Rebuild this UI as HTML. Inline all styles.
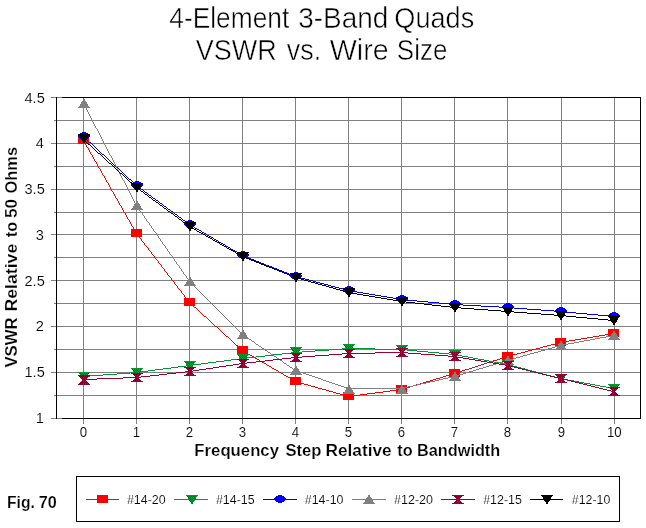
<!DOCTYPE html><html><head><meta charset="utf-8"><title>Fig. 70</title>
<style>html,body{margin:0;padding:0;background:#fff}svg{display:block}text{font-family:"Liberation Sans",sans-serif;fill:#000}</style></head><body>
<svg width="646" height="528" viewBox="0 0 646 528">
<rect width="646" height="528" fill="#fff"/>
<defs><pattern id="dg" x="0" y="0" width="2" height="2" patternUnits="userSpaceOnUse" shape-rendering="crispEdges"><rect width="2" height="2" fill="#006633"/><rect x="0" y="0" width="1" height="1" fill="#009933"/><rect x="1" y="1" width="1" height="1" fill="#00a266"/></pattern><pattern id="dm" x="0" y="0" width="2" height="2" patternUnits="userSpaceOnUse" shape-rendering="crispEdges"><rect width="2" height="2" fill="#660033"/><rect x="0" y="0" width="1" height="1" fill="#990033"/><rect x="1" y="1" width="1" height="1" fill="#b80070"/></pattern></defs>
<g shape-rendering="crispEdges" stroke="#808080" stroke-width="1" fill="none">
<line x1="51" y1="418.5" x2="640" y2="418.5"/>
<line x1="54" y1="395.5" x2="640" y2="395.5"/>
<line x1="51" y1="372.5" x2="640" y2="372.5"/>
<line x1="54" y1="349.5" x2="640" y2="349.5"/>
<line x1="51" y1="326.5" x2="640" y2="326.5"/>
<line x1="54" y1="303.5" x2="640" y2="303.5"/>
<line x1="51" y1="280.5" x2="640" y2="280.5"/>
<line x1="54" y1="257.5" x2="640" y2="257.5"/>
<line x1="51" y1="234.5" x2="640" y2="234.5"/>
<line x1="54" y1="212.5" x2="640" y2="212.5"/>
<line x1="51" y1="189.5" x2="640" y2="189.5"/>
<line x1="54" y1="166.5" x2="640" y2="166.5"/>
<line x1="51" y1="143.5" x2="640" y2="143.5"/>
<line x1="54" y1="120.5" x2="640" y2="120.5"/>
<line x1="51" y1="97.5" x2="640" y2="97.5"/>
<line x1="83.5" y1="97" x2="83.5" y2="424"/>
<line x1="136.5" y1="97" x2="136.5" y2="424"/>
<line x1="189.5" y1="97" x2="189.5" y2="424"/>
<line x1="242.5" y1="97" x2="242.5" y2="424"/>
<line x1="295.5" y1="97" x2="295.5" y2="424"/>
<line x1="348.5" y1="97" x2="348.5" y2="424"/>
<line x1="401.5" y1="97" x2="401.5" y2="424"/>
<line x1="454.5" y1="97" x2="454.5" y2="424"/>
<line x1="507.5" y1="97" x2="507.5" y2="424"/>
<line x1="561.5" y1="97" x2="561.5" y2="424"/>
<line x1="614.5" y1="97" x2="614.5" y2="424"/>
</g>
<g shape-rendering="crispEdges" stroke="#000" stroke-width="1" fill="none">
<line x1="56.5" y1="97" x2="56.5" y2="419"/>
<line x1="62" y1="97.5" x2="641" y2="97.5"/>
<line x1="640.5" y1="97" x2="640.5" y2="419"/>
<line x1="62" y1="418.5" x2="641" y2="418.5"/>
</g>
<g shape-rendering="crispEdges">
<path d="M83,140.5h1M84.5,141v2M85.5,143v2M86.5,145v2M87,147.5h1M88.5,148v2M89.5,150v2M90.5,152v2M91,154.5h1M92.5,155v2M93.5,157v2M94.5,159v2M95,161.5h1M96.5,162v2M97.5,164v2M98.5,166v2M99,168.5h1M100.5,169v2M101.5,171v2M102.5,173v2M103,175.5h1M104.5,176v2M105.5,178v2M106.5,180v2M107,182.5h1M108.5,183v2M109.5,185v2M110.5,187v2M111.5,189v2M112,191.5h1M113.5,192v2M114.5,194v2M115.5,196v2M116,198.5h1M117.5,199v2M118.5,201v2M119.5,203v2M120,205.5h1M121.5,206v2M122.5,208v2M123.5,210v2M124,212.5h1M125.5,213v2M126.5,215v2M127.5,217v2M128,219.5h1M129.5,220v2M130.5,222v2M131.5,224v2M132,226.5h1M133.5,227v2M134.5,229v2M135.5,231v2M136,233.5h1M137,234.5h1M138.5,235v2M139,237.5h1M140,238.5h1M141.5,239v2M142,241.5h1M143,242.5h1M144.5,243v2M145,245.5h1M146,246.5h1M147,247.5h1M148.5,248v2M149,250.5h1M150,251.5h1M151.5,252v2M152,254.5h1M153,255.5h1M154.5,256v2M155,258.5h1M156,259.5h1M157,260.5h1M158.5,261v2M159,263.5h1M160,264.5h1M161.5,265v2M162,267.5h1M163,268.5h1M164.5,269v2M165,271.5h1M166,272.5h1M167.5,273v2M168,275.5h1M169,276.5h1M170,277.5h1M171.5,278v2M172,280.5h1M173,281.5h1M174.5,282v2M175,284.5h1M176,285.5h1M177.5,286v2M178,288.5h1M179,289.5h1M180,290.5h1M181.5,291v2M182,293.5h1M183,294.5h1M184.5,295v2M185,297.5h1M186,298.5h1M187.5,299v2M188,301.5h1M189,302.5h1M190,303.5h1M191,304.5h1M192,305.5h1M193,306.5h1M194,307.5h2M196,308.5h1M197,309.5h1M198,310.5h1M199,311.5h1M200,312.5h1M201,313.5h1M202,314.5h1M203,315.5h1M204,316.5h2M206,317.5h1M207,318.5h1M208,319.5h1M209,320.5h1M210,321.5h1M211,322.5h1M212,323.5h1M213,324.5h1M214,325.5h1M215,326.5h2M217,327.5h1M218,328.5h1M219,329.5h1M220,330.5h1M221,331.5h1M222,332.5h1M223,333.5h1M224,334.5h1M225,335.5h1M226,336.5h2M228,337.5h1M229,338.5h1M230,339.5h1M231,340.5h1M232,341.5h1M233,342.5h1M234,343.5h1M235,344.5h1M236,345.5h2M238,346.5h1M239,347.5h1M240,348.5h1M241,349.5h1M242,350.5h1M243,351.5h2M245,352.5h2M247,353.5h1M248,354.5h2M250,355.5h2M252,356.5h2M254,357.5h1M255,358.5h2M257,359.5h2M259,360.5h1M260,361.5h2M262,362.5h2M264,363.5h2M266,364.5h1M267,365.5h2M269,366.5h2M271,367.5h1M272,368.5h2M274,369.5h2M276,370.5h2M278,371.5h1M279,372.5h2M281,373.5h2M283,374.5h1M284,375.5h2M286,376.5h2M288,377.5h2M290,378.5h1M291,379.5h2M293,380.5h2M295,381.5h2M297,382.5h4M301,383.5h3M304,384.5h4M308,385.5h3M311,386.5h4M315,387.5h3M318,388.5h4M322,389.5h4M326,390.5h3M329,391.5h4M333,392.5h3M336,393.5h4M340,394.5h3M343,395.5h4M347,396.5h5M352,395.5h8M360,394.5h7M367,393.5h8M375,392.5h8M383,391.5h7M390,390.5h8M398,389.5h5M403,388.5h3M406,387.5h4M410,386.5h3M413,385.5h3M416,384.5h4M420,383.5h3M423,382.5h3M426,381.5h4M430,380.5h3M433,379.5h3M436,378.5h4M440,377.5h3M443,376.5h3M446,375.5h4M450,374.5h3M453,373.5h3M456,372.5h3M459,371.5h3M462,370.5h3M465,369.5h4M469,368.5h3M472,367.5h3M475,366.5h3M478,365.5h3M481,364.5h3M484,363.5h3M487,362.5h3M490,361.5h3M493,360.5h4M497,359.5h3M500,358.5h3M503,357.5h3M506,356.5h3M509,355.5h4M513,354.5h4M517,353.5h4M521,352.5h4M525,351.5h3M528,350.5h4M532,349.5h4M536,348.5h4M540,347.5h3M543,346.5h4M547,345.5h4M551,344.5h4M555,343.5h4M559,342.5h4M563,341.5h6M569,340.5h6M575,339.5h6M581,338.5h6M587,337.5h6M593,336.5h6M599,335.5h6M605,334.5h6M611,333.5h3" fill="none" stroke="#ff0000" stroke-width="1"/>
<rect x="78" y="136" width="11" height="8" fill="#ff0000"/>
<rect x="131" y="229" width="11" height="8" fill="#ff0000"/>
<rect x="184" y="298" width="11" height="8" fill="#ff0000"/>
<rect x="237" y="346" width="11" height="8" fill="#ff0000"/>
<rect x="290" y="377" width="11" height="8" fill="#ff0000"/>
<rect x="343" y="392" width="11" height="8" fill="#ff0000"/>
<rect x="396" y="385" width="11" height="8" fill="#ff0000"/>
<rect x="449" y="369" width="11" height="8" fill="#ff0000"/>
<rect x="502" y="352" width="11" height="8" fill="#ff0000"/>
<rect x="555" y="338" width="11" height="8" fill="#ff0000"/>
<rect x="608" y="329" width="11" height="8" fill="#ff0000"/>
<path d="M83,376.5h7M90,375.5h13M103,374.5h14M117,373.5h13M130,372.5h10M140,371.5h8M148,370.5h7M155,369.5h8M163,368.5h8M171,367.5h7M178,366.5h8M186,365.5h7M193,364.5h8M201,363.5h7M208,362.5h8M216,361.5h8M224,360.5h7M231,359.5h8M239,358.5h8M247,357.5h9M256,356.5h9M265,355.5h8M273,354.5h9M282,353.5h9M291,352.5h11M302,351.5h13M315,350.5h14M329,349.5h13M342,348.5h33M375,349.5h32M407,350.5h10M417,351.5h11M428,352.5h11M439,353.5h10M449,354.5h8M457,355.5h5M462,356.5h6M468,357.5h5M473,358.5h5M478,359.5h6M484,360.5h5M489,361.5h5M494,362.5h6M500,363.5h5M505,364.5h4M509,365.5h4M513,366.5h4M517,367.5h4M521,368.5h4M525,369.5h3M528,370.5h4M532,371.5h4M536,372.5h4M540,373.5h3M543,374.5h4M547,375.5h4M551,376.5h4M555,377.5h4M559,378.5h4M563,379.5h5M568,380.5h6M574,381.5h5M579,382.5h5M584,383.5h6M590,384.5h5M595,385.5h5M600,386.5h6M606,387.5h5M611,388.5h3" fill="none" stroke="#009933" stroke-width="1"/>
<polygon points="78,372 90,372 84,381.6" fill="url(#dg)"/><rect x="78" y="372" width="12" height="1" fill="#009933"/>
<polygon points="131,368 143,368 137,377.6" fill="url(#dg)"/><rect x="131" y="368" width="12" height="1" fill="#009933"/>
<polygon points="184,361 196,361 190,370.6" fill="url(#dg)"/><rect x="184" y="361" width="12" height="1" fill="#009933"/>
<polygon points="237,354 249,354 243,363.6" fill="url(#dg)"/><rect x="237" y="354" width="12" height="1" fill="#009933"/>
<polygon points="290,347 302,347 296,356.6" fill="url(#dg)"/><rect x="290" y="347" width="12" height="1" fill="#009933"/>
<polygon points="343,344 355,344 349,353.6" fill="url(#dg)"/><rect x="343" y="344" width="12" height="1" fill="#009933"/>
<polygon points="396,345 408,345 402,354.6" fill="url(#dg)"/><rect x="396" y="345" width="12" height="1" fill="#009933"/>
<polygon points="449,350 461,350 455,359.6" fill="url(#dg)"/><rect x="449" y="350" width="12" height="1" fill="#009933"/>
<polygon points="502,360 514,360 508,369.6" fill="url(#dg)"/><rect x="502" y="360" width="12" height="1" fill="#009933"/>
<polygon points="555,374 567,374 561,383.6" fill="url(#dg)"/><rect x="555" y="374" width="12" height="1" fill="#009933"/>
<polygon points="608,384 620,384 614,393.6" fill="url(#dg)"/><rect x="608" y="384" width="12" height="1" fill="#009933"/>
<path d="M83,136.5h1M84,137.5h1M85,138.5h1M86,139.5h1M87,140.5h1M88,141.5h1M89,142.5h2M91,143.5h1M92,144.5h1M93,145.5h1M94,146.5h1M95,147.5h1M96,148.5h1M97,149.5h1M98,150.5h1M99,151.5h1M100,152.5h1M101,153.5h1M102,154.5h2M104,155.5h1M105,156.5h1M106,157.5h1M107,158.5h1M108,159.5h1M109,160.5h1M110,161.5h1M111,162.5h1M112,163.5h1M113,164.5h1M114,165.5h1M115,166.5h1M116,167.5h2M118,168.5h1M119,169.5h1M120,170.5h1M121,171.5h1M122,172.5h1M123,173.5h1M124,174.5h1M125,175.5h1M126,176.5h1M127,177.5h1M128,178.5h1M129,179.5h2M131,180.5h1M132,181.5h1M133,182.5h1M134,183.5h1M135,184.5h1M136,185.5h1M137,186.5h2M139,187.5h1M140,188.5h1M141,189.5h2M143,190.5h1M144,191.5h1M145,192.5h2M147,193.5h1M148,194.5h1M149,195.5h2M151,196.5h1M152,197.5h1M153,198.5h2M155,199.5h1M156,200.5h2M158,201.5h1M159,202.5h1M160,203.5h2M162,204.5h1M163,205.5h1M164,206.5h2M166,207.5h1M167,208.5h1M168,209.5h2M170,210.5h1M171,211.5h2M173,212.5h1M174,213.5h1M175,214.5h2M177,215.5h1M178,216.5h1M179,217.5h2M181,218.5h1M182,219.5h1M183,220.5h2M185,221.5h1M186,222.5h1M187,223.5h2M189,224.5h1M190,225.5h2M192,226.5h2M194,227.5h1M195,228.5h2M197,229.5h2M199,230.5h2M201,231.5h1M202,232.5h2M204,233.5h2M206,234.5h1M207,235.5h2M209,236.5h2M211,237.5h2M213,238.5h1M214,239.5h2M216,240.5h2M218,241.5h1M219,242.5h2M221,243.5h2M223,244.5h2M225,245.5h1M226,246.5h2M228,247.5h2M230,248.5h1M231,249.5h2M233,250.5h2M235,251.5h2M237,252.5h1M238,253.5h2M240,254.5h2M242,255.5h2M244,256.5h2M246,257.5h3M249,258.5h2M251,259.5h3M254,260.5h2M256,261.5h3M259,262.5h2M261,263.5h3M264,264.5h2M266,265.5h3M269,266.5h3M272,267.5h2M274,268.5h3M277,269.5h2M279,270.5h3M282,271.5h2M284,272.5h3M287,273.5h2M289,274.5h3M292,275.5h2M294,276.5h3M297,277.5h4M301,278.5h4M305,279.5h4M309,280.5h4M313,281.5h3M316,282.5h4M320,283.5h4M324,284.5h4M328,285.5h3M331,286.5h4M335,287.5h4M339,288.5h4M343,289.5h4M347,290.5h4M351,291.5h6M357,292.5h6M363,293.5h6M369,294.5h6M375,295.5h6M381,296.5h6M387,297.5h6M393,298.5h6M399,299.5h8M407,300.5h10M417,301.5h11M428,302.5h11M439,303.5h10M449,304.5h14M463,305.5h18M481,306.5h18M499,307.5h15M514,308.5h13M527,309.5h14M541,310.5h13M554,311.5h12M566,312.5h10M576,313.5h11M587,314.5h11M598,315.5h10M608,316.5h6" fill="none" stroke="#0000ff" stroke-width="1"/>
<path d="M82,132.5h4M80,133.5h8M79,134.5h10M78,135.5h12M78,136.5h12M79,137.5h10M80,138.5h8M82,139.5h4" stroke="#0000ff" stroke-width="1" fill="none"/>
<path d="M135,181.5h4M133,182.5h8M132,183.5h10M131,184.5h12M131,185.5h12M132,186.5h10M133,187.5h8M135,188.5h4" stroke="#0000ff" stroke-width="1" fill="none"/>
<path d="M188,220.5h4M186,221.5h8M185,222.5h10M184,223.5h12M184,224.5h12M185,225.5h10M186,226.5h8M188,227.5h4" stroke="#0000ff" stroke-width="1" fill="none"/>
<path d="M241,251.5h4M239,252.5h8M238,253.5h10M237,254.5h12M237,255.5h12M238,256.5h10M239,257.5h8M241,258.5h4" stroke="#0000ff" stroke-width="1" fill="none"/>
<path d="M294,272.5h4M292,273.5h8M291,274.5h10M290,275.5h12M290,276.5h12M291,277.5h10M292,278.5h8M294,279.5h4" stroke="#0000ff" stroke-width="1" fill="none"/>
<path d="M347,286.5h4M345,287.5h8M344,288.5h10M343,289.5h12M343,290.5h12M344,291.5h10M345,292.5h8M347,293.5h4" stroke="#0000ff" stroke-width="1" fill="none"/>
<path d="M400,295.5h4M398,296.5h8M397,297.5h10M396,298.5h12M396,299.5h12M397,300.5h10M398,301.5h8M400,302.5h4" stroke="#0000ff" stroke-width="1" fill="none"/>
<path d="M453,300.5h4M451,301.5h8M450,302.5h10M449,303.5h12M449,304.5h12M450,305.5h10M451,306.5h8M453,307.5h4" stroke="#0000ff" stroke-width="1" fill="none"/>
<path d="M506,303.5h4M504,304.5h8M503,305.5h10M502,306.5h12M502,307.5h12M503,308.5h10M504,309.5h8M506,310.5h4" stroke="#0000ff" stroke-width="1" fill="none"/>
<path d="M559,307.5h4M557,308.5h8M556,309.5h10M555,310.5h12M555,311.5h12M556,312.5h10M557,313.5h8M559,314.5h4" stroke="#0000ff" stroke-width="1" fill="none"/>
<path d="M612,312.5h4M610,313.5h8M609,314.5h10M608,315.5h12M608,316.5h12M609,317.5h10M610,318.5h8M612,319.5h4" stroke="#0000ff" stroke-width="1" fill="none"/>
<path d="M83,103.5h1M84.5,104v2M85.5,106v2M86.5,108v2M87.5,110v2M88.5,112v2M89.5,114v2M90.5,116v2M91.5,118v2M92.5,120v2M93.5,122v2M94.5,124v2M95.5,126v2M96,128.5h1M97.5,129v2M98.5,131v2M99.5,133v2M100.5,135v2M101.5,137v2M102.5,139v2M103.5,141v2M104.5,143v2M105.5,145v2M106.5,147v2M107.5,149v2M108.5,151v2M109.5,153v2M110,155.5h1M111.5,156v2M112.5,158v2M113.5,160v2M114.5,162v2M115.5,164v2M116.5,166v2M117.5,168v2M118.5,170v2M119.5,172v2M120.5,174v2M121.5,176v2M122.5,178v2M123,180.5h1M124.5,181v2M125.5,183v2M126.5,185v2M127.5,187v2M128.5,189v2M129.5,191v2M130.5,193v2M131.5,195v2M132.5,197v2M133.5,199v2M134.5,201v2M135.5,203v2M136,205.5h1M137.5,206v2M138,208.5h1M139.5,209v2M140,211.5h1M141,212.5h1M142.5,213v2M143,215.5h1M144.5,216v2M145,218.5h1M146.5,219v2M147,221.5h1M148,222.5h1M149.5,223v2M150,225.5h1M151.5,226v2M152,228.5h1M153.5,229v2M154,231.5h1M155,232.5h1M156.5,233v2M157,235.5h1M158.5,236v2M159,238.5h1M160.5,239v2M161,241.5h1M162.5,242v2M163,244.5h1M164,245.5h1M165.5,246v2M166,248.5h1M167.5,249v2M168,251.5h1M169.5,252v2M170,254.5h1M171,255.5h1M172.5,256v2M173,258.5h1M174.5,259v2M175,261.5h1M176.5,262v2M177,264.5h1M178,265.5h1M179.5,266v2M180,268.5h1M181.5,269v2M182,271.5h1M183.5,272v2M184,274.5h1M185,275.5h1M186.5,276v2M187,278.5h1M188.5,279v2M189,281.5h1M190,282.5h1M191,283.5h1M192,284.5h1M193,285.5h1M194,286.5h1M195,287.5h1M196,288.5h1M197,289.5h1M198,290.5h1M199,291.5h1M200,292.5h1M201,293.5h1M202,294.5h1M203,295.5h1M204,296.5h1M205,297.5h1M206,298.5h1M207,299.5h1M208,300.5h1M209,301.5h1M210,302.5h1M211,303.5h1M212,304.5h1M213,305.5h1M214,306.5h1M215,307.5h1M216,308.5h1M217,309.5h1M218,310.5h1M219,311.5h1M220,312.5h1M221,313.5h1M222,314.5h1M223,315.5h1M224,316.5h1M225,317.5h1M226,318.5h1M227,319.5h1M228,320.5h1M229,321.5h1M230,322.5h1M231,323.5h1M232,324.5h1M233,325.5h1M234,326.5h1M235,327.5h1M236,328.5h1M237,329.5h1M238,330.5h1M239,331.5h1M240,332.5h1M241,333.5h1M242,334.5h1M243,335.5h2M245,336.5h1M246,337.5h2M248,338.5h1M249,339.5h2M251,340.5h1M252,341.5h2M254,342.5h1M255,343.5h1M256,344.5h2M258,345.5h1M259,346.5h2M261,347.5h1M262,348.5h2M264,349.5h1M265,350.5h2M267,351.5h1M268,352.5h2M270,353.5h1M271,354.5h2M273,355.5h1M274,356.5h2M276,357.5h1M277,358.5h2M279,359.5h1M280,360.5h2M282,361.5h1M283,362.5h1M284,363.5h2M286,364.5h1M287,365.5h2M289,366.5h1M290,367.5h2M292,368.5h1M293,369.5h2M295,370.5h2M297,371.5h3M300,372.5h3M303,373.5h3M306,374.5h3M309,375.5h3M312,376.5h3M315,377.5h3M318,378.5h3M321,379.5h2M323,380.5h3M326,381.5h3M329,382.5h3M332,383.5h3M335,384.5h3M338,385.5h3M341,386.5h3M344,387.5h3M347,388.5h57M404,387.5h4M408,386.5h5M413,385.5h4M417,384.5h4M421,383.5h5M426,382.5h4M430,381.5h5M435,380.5h4M439,379.5h4M443,378.5h5M448,377.5h4M452,376.5h4M456,375.5h3M459,374.5h4M463,373.5h3M466,372.5h3M469,371.5h4M473,370.5h3M476,369.5h3M479,368.5h4M483,367.5h3M486,366.5h3M489,365.5h4M493,364.5h3M496,363.5h3M499,362.5h4M503,361.5h3M506,360.5h3M509,359.5h4M513,358.5h3M516,357.5h4M520,356.5h3M523,355.5h4M527,354.5h3M530,353.5h4M534,352.5h4M538,351.5h3M541,350.5h4M545,349.5h3M548,348.5h4M552,347.5h3M555,346.5h4M559,345.5h4M563,344.5h5M568,343.5h6M574,342.5h5M579,341.5h5M584,340.5h6M590,339.5h5M595,338.5h5M600,337.5h6M606,336.5h5M611,335.5h3" fill="none" stroke="#808080" stroke-width="1"/>
<polygon points="78,108 90,108 84,98.4" fill="#808080"/>
<polygon points="131,210 143,210 137,200.4" fill="#808080"/>
<polygon points="184,286 196,286 190,276.4" fill="#808080"/>
<polygon points="237,339 249,339 243,329.4" fill="#808080"/>
<polygon points="290,375 302,375 296,365.4" fill="#808080"/>
<polygon points="343,394 355,394 349,384.4" fill="#808080"/>
<polygon points="396,394 408,394 402,384.4" fill="#808080"/>
<polygon points="449,381 461,381 455,371.4" fill="#808080"/>
<polygon points="502,365 514,365 508,355.4" fill="#808080"/>
<polygon points="555,350 567,350 561,340.4" fill="#808080"/>
<polygon points="608,340 620,340 614,330.4" fill="#808080"/>
<path d="M83,379.5h14M97,378.5h26M123,377.5h18M141,376.5h9M150,375.5h9M159,374.5h8M167,373.5h9M176,372.5h9M185,371.5h8M193,370.5h6M199,369.5h7M206,368.5h7M213,367.5h6M219,366.5h7M226,365.5h7M233,364.5h6M239,363.5h8M247,362.5h9M256,361.5h9M265,360.5h8M273,359.5h9M282,358.5h9M291,357.5h11M302,356.5h13M315,355.5h14M329,354.5h13M342,353.5h33M375,352.5h33M408,353.5h13M421,354.5h14M435,355.5h13M448,356.5h9M457,357.5h6M463,358.5h6M469,359.5h6M475,360.5h6M481,361.5h6M487,362.5h6M493,363.5h6M499,364.5h6M505,365.5h5M510,366.5h4M514,367.5h4M518,368.5h4M522,369.5h4M526,370.5h4M530,371.5h4M534,372.5h4M538,373.5h4M542,374.5h4M546,375.5h4M550,376.5h4M554,377.5h4M558,378.5h5M563,379.5h4M567,380.5h4M571,381.5h4M575,382.5h4M579,383.5h4M583,384.5h4M587,385.5h4M591,386.5h4M595,387.5h4M599,388.5h4M603,389.5h4M607,390.5h4M611,391.5h3" fill="none" stroke="#990033" stroke-width="1"/>
<polygon points="78,375 90,375 85.2,380.0 90,385 78,385 82.8,380.0" fill="url(#dm)"/><rect x="78" y="375" width="12" height="1" fill="#990033"/><rect x="78" y="384" width="12" height="1" fill="#990033"/>
<polygon points="131,373 143,373 138.2,377.5 143,382 131,382 135.8,377.5" fill="url(#dm)"/><rect x="131" y="373" width="12" height="1" fill="#990033"/><rect x="131" y="381" width="12" height="1" fill="#990033"/>
<polygon points="184,367 196,367 191.2,371.5 196,376 184,376 188.8,371.5" fill="url(#dm)"/><rect x="184" y="367" width="12" height="1" fill="#990033"/><rect x="184" y="375" width="12" height="1" fill="#990033"/>
<polygon points="237,359 249,359 244.2,363.5 249,368 237,368 241.8,363.5" fill="url(#dm)"/><rect x="237" y="359" width="12" height="1" fill="#990033"/><rect x="237" y="367" width="12" height="1" fill="#990033"/>
<polygon points="290,353 302,353 297.2,357.5 302,362 290,362 294.8,357.5" fill="url(#dm)"/><rect x="290" y="353" width="12" height="1" fill="#990033"/><rect x="290" y="361" width="12" height="1" fill="#990033"/>
<polygon points="343,349 355,349 350.2,353.5 355,358 343,358 347.8,353.5" fill="url(#dm)"/><rect x="343" y="349" width="12" height="1" fill="#990033"/><rect x="343" y="357" width="12" height="1" fill="#990033"/>
<polygon points="396,348 408,348 403.2,352.5 408,357 396,357 400.8,352.5" fill="url(#dm)"/><rect x="396" y="348" width="12" height="1" fill="#990033"/><rect x="396" y="356" width="12" height="1" fill="#990033"/>
<polygon points="449,352 461,352 456.2,356.5 461,361 449,361 453.8,356.5" fill="url(#dm)"/><rect x="449" y="352" width="12" height="1" fill="#990033"/><rect x="449" y="360" width="12" height="1" fill="#990033"/>
<polygon points="502,361 514,361 509.2,365.5 514,370 502,370 506.8,365.5" fill="url(#dm)"/><rect x="502" y="361" width="12" height="1" fill="#990033"/><rect x="502" y="369" width="12" height="1" fill="#990033"/>
<polygon points="555,374 567,374 562.2,378.5 567,383 555,383 559.8,378.5" fill="url(#dm)"/><rect x="555" y="374" width="12" height="1" fill="#990033"/><rect x="555" y="382" width="12" height="1" fill="#990033"/>
<polygon points="608,387 620,387 615.2,391.5 620,396 608,396 612.8,391.5" fill="url(#dm)"/><rect x="608" y="387" width="12" height="1" fill="#990033"/><rect x="608" y="395" width="12" height="1" fill="#990033"/>
<path d="M83,139.5h1M84,140.5h1M85,141.5h1M86,142.5h1M87,143.5h1M88,144.5h2M90,145.5h1M91,146.5h1M92,147.5h1M93,148.5h1M94,149.5h1M95,150.5h1M96,151.5h1M97,152.5h1M98,153.5h2M100,154.5h1M101,155.5h1M102,156.5h1M103,157.5h1M104,158.5h1M105,159.5h1M106,160.5h1M107,161.5h1M108,162.5h1M109,163.5h2M111,164.5h1M112,165.5h1M113,166.5h1M114,167.5h1M115,168.5h1M116,169.5h1M117,170.5h1M118,171.5h1M119,172.5h1M120,173.5h2M122,174.5h1M123,175.5h1M124,176.5h1M125,177.5h1M126,178.5h1M127,179.5h1M128,180.5h1M129,181.5h1M130,182.5h2M132,183.5h1M133,184.5h1M134,185.5h1M135,186.5h1M136,187.5h1M137,188.5h2M139,189.5h1M140,190.5h1M141,191.5h2M143,192.5h1M144,193.5h1M145,194.5h2M147,195.5h1M148,196.5h1M149,197.5h2M151,198.5h1M152,199.5h1M153,200.5h2M155,201.5h1M156,202.5h2M158,203.5h1M159,204.5h1M160,205.5h2M162,206.5h1M163,207.5h1M164,208.5h2M166,209.5h1M167,210.5h1M168,211.5h2M170,212.5h1M171,213.5h2M173,214.5h1M174,215.5h1M175,216.5h2M177,217.5h1M178,218.5h1M179,219.5h2M181,220.5h1M182,221.5h1M183,222.5h2M185,223.5h1M186,224.5h1M187,225.5h2M189,226.5h1M190,227.5h2M192,228.5h2M194,229.5h2M196,230.5h1M197,231.5h2M199,232.5h2M201,233.5h2M203,234.5h2M205,235.5h1M206,236.5h2M208,237.5h2M210,238.5h2M212,239.5h1M213,240.5h2M215,241.5h2M217,242.5h2M219,243.5h1M220,244.5h2M222,245.5h2M224,246.5h2M226,247.5h1M227,248.5h2M229,249.5h2M231,250.5h2M233,251.5h2M235,252.5h1M236,253.5h2M238,254.5h2M240,255.5h2M242,256.5h2M244,257.5h2M246,258.5h3M249,259.5h2M251,260.5h3M254,261.5h2M256,262.5h3M259,263.5h2M261,264.5h3M264,265.5h2M266,266.5h3M269,267.5h3M272,268.5h2M274,269.5h3M277,270.5h2M279,271.5h3M282,272.5h2M284,273.5h3M287,274.5h2M289,275.5h3M292,276.5h2M294,277.5h3M297,278.5h4M301,279.5h3M304,280.5h4M308,281.5h3M311,282.5h4M315,283.5h3M318,284.5h4M322,285.5h4M326,286.5h3M329,287.5h4M333,288.5h3M336,289.5h4M340,290.5h3M343,291.5h4M347,292.5h4M351,293.5h6M357,294.5h6M363,295.5h6M369,296.5h6M375,297.5h6M381,298.5h6M387,299.5h6M393,300.5h6M399,301.5h7M406,302.5h9M415,303.5h9M424,304.5h8M432,305.5h9M441,306.5h9M450,307.5h11M461,308.5h13M474,309.5h14M488,310.5h13M501,311.5h13M514,312.5h13M527,313.5h14M541,314.5h13M554,315.5h12M566,316.5h10M576,317.5h11M587,318.5h11M598,319.5h10M608,320.5h6" fill="none" stroke="#000000" stroke-width="1"/>
<polygon points="78,134 90,134 84,143.6" fill="#000000"/>
<polygon points="131,183 143,183 137,192.6" fill="#000000"/>
<polygon points="184,222 196,222 190,231.6" fill="#000000"/>
<polygon points="237,252 249,252 243,261.6" fill="#000000"/>
<polygon points="290,273 302,273 296,282.6" fill="#000000"/>
<polygon points="343,288 355,288 349,297.6" fill="#000000"/>
<polygon points="396,297 408,297 402,306.6" fill="#000000"/>
<polygon points="449,303 461,303 455,312.6" fill="#000000"/>
<polygon points="502,307 514,307 508,316.6" fill="#000000"/>
<polygon points="555,311 567,311 561,320.6" fill="#000000"/>
<polygon points="608,316 620,316 614,325.6" fill="#000000"/>
</g>
<g shape-rendering="crispEdges">
<rect x="76.5" y="476.5" width="543" height="45" fill="#fff" stroke="#000" stroke-width="1"/>
<line x1="86" y1="499.5" x2="119" y2="499.5" stroke="#ff0000" stroke-width="1"/>
<rect x="97" y="495" width="11" height="8" fill="#ff0000"/>
<line x1="174" y1="499.5" x2="208" y2="499.5" stroke="#009933" stroke-width="1"/>
<polygon points="186,495 198,495 192,504.6" fill="url(#dg)"/><rect x="186" y="495" width="12" height="1" fill="#009933"/>
<line x1="263" y1="499.5" x2="297" y2="499.5" stroke="#0000ff" stroke-width="1"/>
<path d="M278,495.5h4M276,496.5h8M275,497.5h10M274,498.5h12M274,499.5h12M275,500.5h10M276,501.5h8M278,502.5h4" stroke="#0000ff" stroke-width="1" fill="none"/>
<line x1="352" y1="499.5" x2="386" y2="499.5" stroke="#808080" stroke-width="1"/>
<polygon points="363,504 375,504 369,494.4" fill="#808080"/>
<line x1="441" y1="499.5" x2="475" y2="499.5" stroke="#990033" stroke-width="1"/>
<polygon points="452,495 464,495 459.2,499.5 464,504 452,504 456.8,499.5" fill="url(#dm)"/><rect x="452" y="495" width="12" height="1" fill="#990033"/><rect x="452" y="503" width="12" height="1" fill="#990033"/>
<line x1="530" y1="499.5" x2="563" y2="499.5" stroke="#000000" stroke-width="1"/>
<polygon points="541,495 553,495 547,504.6" fill="#000000"/>
</g>
<g style="filter:opacity(0.999)">
<g font-size="14.6" text-anchor="end" stroke="#fff" stroke-width="0.12">
<text x="43.8" y="423">1</text>
<text x="44.8" y="377">1.5</text>
<text x="43.8" y="331">2</text>
<text x="44.8" y="286">2.5</text>
<text x="43.8" y="240">3</text>
<text x="44.8" y="194">3.5</text>
<text x="43.8" y="148">4</text>
<text x="44.8" y="103">4.5</text>
</g>
<g font-size="15" text-anchor="middle" stroke="#fff" stroke-width="0.12">
<text transform="translate(83.3,437) scale(0.88,1)">0</text>
<text transform="translate(136.3,437) scale(0.88,1)">1</text>
<text transform="translate(189.3,437) scale(0.88,1)">2</text>
<text transform="translate(242.3,437) scale(0.88,1)">3</text>
<text transform="translate(295.3,437) scale(0.88,1)">4</text>
<text transform="translate(348.3,437) scale(0.88,1)">5</text>
<text transform="translate(401.3,437) scale(0.88,1)">6</text>
<text transform="translate(454.3,437) scale(0.88,1)">7</text>
<text transform="translate(507.3,437) scale(0.88,1)">8</text>
<text transform="translate(561.3,437) scale(0.88,1)">9</text>
<text transform="translate(614.3,437) scale(0.88,1)">10</text>
</g>
<text x="169.31" y="28" font-size="28.8" stroke="#fff" stroke-width="0.5" textLength="119.91" lengthAdjust="spacingAndGlyphs">4-Element</text>
<text x="298.19" y="28" font-size="28.8" stroke="#fff" stroke-width="0.5" textLength="90.12" lengthAdjust="spacingAndGlyphs">3-Band</text>
<text x="394.32" y="28" font-size="28.8" stroke="#fff" stroke-width="0.5" textLength="79.91" lengthAdjust="spacingAndGlyphs">Quads</text>
<text x="195.77" y="60" font-size="28.8" stroke="#fff" stroke-width="0.5" textLength="81.04" lengthAdjust="spacingAndGlyphs">VSWR</text>
<text x="286.77" y="60" font-size="28.8" stroke="#fff" stroke-width="0.5" textLength="34.42" lengthAdjust="spacingAndGlyphs">vs.</text>
<text x="329.75" y="60" font-size="28.8" stroke="#fff" stroke-width="0.5" textLength="59.03" lengthAdjust="spacingAndGlyphs">Wire</text>
<text x="396.87" y="60" font-size="28.8" stroke="#fff" stroke-width="0.5" textLength="50.57" lengthAdjust="spacingAndGlyphs">Size</text>
<text x="194.39" y="456" font-size="16.6" font-weight="bold" stroke="#fff" stroke-width="0.2" textLength="84.60" lengthAdjust="spacingAndGlyphs">Frequency</text>
<text x="285.50" y="456" font-size="16.6" font-weight="bold" stroke="#fff" stroke-width="0.2" textLength="36.02" lengthAdjust="spacingAndGlyphs">Step</text>
<text x="325.56" y="456" font-size="16.6" font-weight="bold" stroke="#fff" stroke-width="0.2" textLength="66.12" lengthAdjust="spacingAndGlyphs">Relative</text>
<text x="397.25" y="456" font-size="16.6" font-weight="bold" stroke="#fff" stroke-width="0.2" textLength="15.40" lengthAdjust="spacingAndGlyphs">to</text>
<text x="417.02" y="456" font-size="16.6" font-weight="bold" stroke="#fff" stroke-width="0.2" textLength="83.23" lengthAdjust="spacingAndGlyphs">Bandwidth</text>
<text x="7.06" y="508" font-size="16.6" font-weight="bold" stroke="#fff" stroke-width="0.2" textLength="27.82" lengthAdjust="spacingAndGlyphs">Fig.</text>
<text x="38.67" y="508" font-size="16.6" font-weight="bold" stroke="#fff" stroke-width="0.2" textLength="18.03" lengthAdjust="spacingAndGlyphs">70</text>
<text transform="translate(17,0) rotate(-90)" x="-367.55" y="0" font-size="16.6" font-weight="bold" stroke="#fff" stroke-width="0.2" textLength="50.10" lengthAdjust="spacingAndGlyphs">VSWR</text>
<text transform="translate(17,0) rotate(-90)" x="-311.57" y="0" font-size="16.6" font-weight="bold" stroke="#fff" stroke-width="0.2" textLength="67.87" lengthAdjust="spacingAndGlyphs">Relative</text>
<text transform="translate(17,0) rotate(-90)" x="-237.25" y="0" font-size="16.6" font-weight="bold" stroke="#fff" stroke-width="0.2" textLength="15.40" lengthAdjust="spacingAndGlyphs">to</text>
<text transform="translate(17,0) rotate(-90)" x="-218.12" y="0" font-size="16.6" font-weight="bold" stroke="#fff" stroke-width="0.2" textLength="19.16" lengthAdjust="spacingAndGlyphs">50</text>
<text transform="translate(17,0) rotate(-90)" x="-193.54" y="0" font-size="16.6" font-weight="bold" stroke="#fff" stroke-width="0.2" textLength="46.63" lengthAdjust="spacingAndGlyphs">Ohms</text>
<text x="126.90" y="504" font-size="12.8" stroke="#fff" stroke-width="0.12" textLength="38.78" lengthAdjust="spacingAndGlyphs">#14-20</text>
<text x="215.90" y="504" font-size="12.8" stroke="#fff" stroke-width="0.12" textLength="38.78" lengthAdjust="spacingAndGlyphs">#14-15</text>
<text x="304.80" y="504" font-size="12.8" stroke="#fff" stroke-width="0.12" textLength="38.68" lengthAdjust="spacingAndGlyphs">#14-10</text>
<text x="394.00" y="504" font-size="12.8" stroke="#fff" stroke-width="0.12" textLength="38.98" lengthAdjust="spacingAndGlyphs">#12-20</text>
<text x="483.20" y="504" font-size="12.8" stroke="#fff" stroke-width="0.12" textLength="38.68" lengthAdjust="spacingAndGlyphs">#12-15</text>
<text x="571.80" y="504" font-size="12.8" stroke="#fff" stroke-width="0.12" textLength="38.48" lengthAdjust="spacingAndGlyphs">#12-10</text>
</g>
</svg></body></html>
